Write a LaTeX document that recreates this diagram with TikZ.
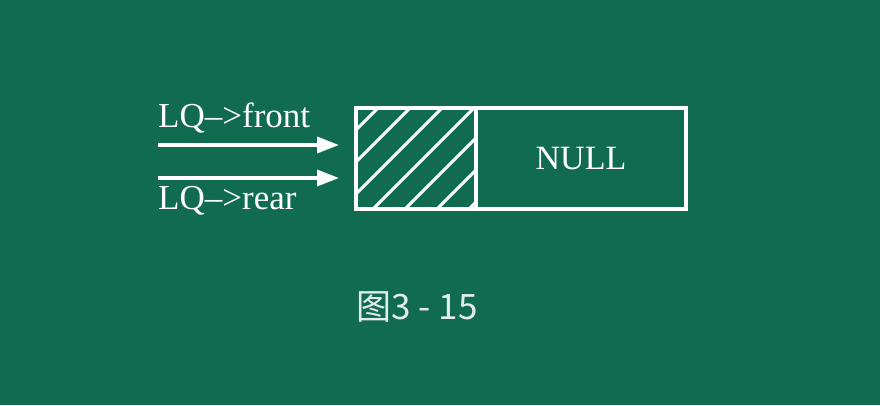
\documentclass[tikz,border=0pt]{standalone}
\usepackage{fontspec}
\setmainfont{Liberation Serif}
\newfontfamily\cjk{Noto Sans CJK SC}
\usetikzlibrary{positioning,arrows.meta}
\definecolor{board}{RGB}{17,107,80}
\tikzset{%
  cell/.style={draw=white,line width=3.5pt,minimum height=101pt,inner sep=0pt,outer sep=0pt},
  hatchline/.style={white,line width=3pt},
  ptr/.style={white,line width=3.5pt,-{Triangle[length=22pt,width=16pt]},shorten >=17pt},
  lbl/.style={text=white,font=\fontsize{35}{35}\selectfont,inner sep=0pt,anchor=base west},
  caption/.style={text=white!88!board,font=\cjk\fontsize{35}{35}\selectfont}
}

\begin{document}
\begin{tikzpicture}[x=1pt,y=-1pt]
  \useasboundingbox[fill=board] (0,0) rectangle (880,405);

  \node[cell,minimum width=120pt] (head) at (416,158.5) {};
  \node[cell,minimum width=210pt,right=0pt of head,text=white,
        font=\fontsize{34}{34}\selectfont] (null) {NULL};

  % hatching of the head cell
  \begin{scope}
    \clip (head.south west) rectangle (head.north east);
    \foreach \x in {250,282,...,602}
      \draw[hatchline] (\x,108) -- ++(-110,110);
  \end{scope}

  \node[lbl] (front) at (158,127) {LQ–>front};
  \node[lbl] (rear) at (158,209) {LQ–>rear};

  \coordinate (f0) at (158,145);
  \coordinate (r0) at (158,178);
  \draw[ptr] (f0) -- (f0 -| head.west);
  \draw[ptr] (r0) -- (r0 -| head.west);

  \node[caption] (fig) at (417,307) {图3 - 15};
\end{tikzpicture}
\end{document}
